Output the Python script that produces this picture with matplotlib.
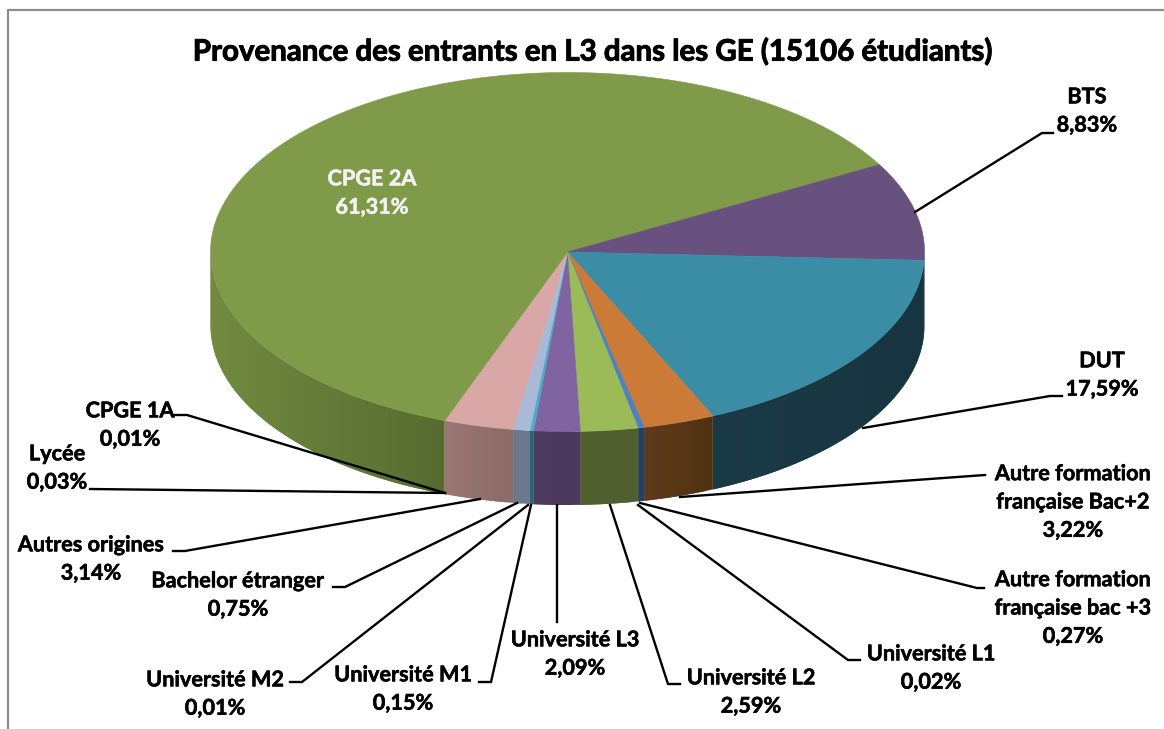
import numpy as np
import matplotlib
matplotlib.use("Agg")
import matplotlib.pyplot as plt
import matplotlib.patheffects as pe
from matplotlib.colors import to_rgb

TITLE = "Provenance des entrants en L3 dans les GE (15106 étudiants)"
categories = ["CPGE 2A", "BTS", "DUT", "Autre formation\nfrançaise Bac+2",
              "Autre formation\nfrançaise bac +3", "Université L1", "Université L2",
              "Université L3", "Université M1", "Université M2", "Bachelor étranger",
              "Autres origines", "Lycée", "CPGE 1A"]
values = [61.31, 8.83, 17.59, 3.22, 0.27, 0.02, 2.59, 2.09, 0.15, 0.01, 0.75, 3.14, 0.03, 0.01]
top_colors = ["#7F9A48", "#68507F", "#3B8DA5", "#CB7A37", "#4F81BD", "#4F81BD", "#9BBB59",
              "#8064A2", "#4BACC6", "#4BACC6", "#A9BAD8", "#D8A7A6", "#D8A7A6", "#7F9A48"]
wall_left = ["#728A40", "#3A2C48", "#1A3A46", "#5E3A1C", "#26405F", "#26405F", "#515F2E",
             "#4D3B60", "#246577", "#246577", "#6B788A", "#9A7674", "#9A7674", "#586C32"]
wall_right = ["#566B30", "#3A2C48", "#173540", "#50320F", "#26405F", "#26405F", "#515F2E",
              "#4A395C", "#246577", "#246577", "#6B788A", "#8B6B67", "#8B6B67", "#586C32"]

label_pos = {
    "CPGE 2A": (372, 193), "BTS": (1087, 111), "DUT": (1102, 375),
    "Autre formation\nfrançaise Bac+2": (1073, 502), "Autre formation\nfrançaise bac +3": (1073, 608),
    "Université L1": (931, 668), "Université L2": (751, 692), "Université L3": (575, 654),
    "Université M1": (403, 689), "Université M2": (215, 694), "Bachelor étranger": (238, 595),
    "Autres origines": (91, 559), "Lycée": (57, 468), "CPGE 1A": (130, 425),
}
leaders = [
    [(915, 212), (1042, 133), (1053, 133)],
    [(863, 428), (1050, 396), (1062, 396)],
    [(680, 497), (985, 475)],
    [(640, 503), (977, 588), (984, 588)],
    [(638, 505), (848, 660), (860, 660)],
    [(610, 505), (668, 684), (680, 684)],
    [(557, 505), (557, 622)],
    [(531, 505), (491, 682), (479, 682)],
    [(528, 505), (302, 682), (290, 682)],
    [(517, 503), (345, 587), (333, 587)],
    [(480, 499), (185, 551), (173, 551)],
    [(445, 493), (90, 489)],
    [(445, 493), (187, 415), (175, 415)],
]

CX, CY, RX, RY, DEPTH = 567.5, 252.0, 357.0, 179.5, 73.5
START = 29.1 + 360 * 0.6131

plt.rcParams['font.family'] = ['Lato', 'DejaVu Sans']
fig = plt.figure(figsize=(11.64, 7.29), dpi=100)
ax = fig.add_axes([0, 0, 1, 1])
ax.set_xlim(0, 1164); ax.set_ylim(729, 0); ax.axis("off")

ax.plot([8, 8, 1164], [729, 10, 10], color="#8C8C8C", lw=1.6, zorder=1, solid_capstyle="butt")

vals = np.array(values)
ang = START - np.concatenate([[0], np.cumsum(vals)]) * 360 / vals.sum()

def px(a):
    r = np.radians(a)
    return CX + RX * np.cos(r), CY - RY * np.sin(r)

for i in range(len(vals)):
    a0, a1 = ang[i], ang[i + 1]
    t = np.linspace(a0, a1, max(int(abs(a0 - a1)), 3))
    s = np.sin(np.radians(t))
    t = t[s <= 0.0]
    if len(t) >= 2:
        x, y = px(t)
        lo, hi = x.min(), x.max()
        c0, c1 = np.array(to_rgb(wall_left[i])), np.array(to_rgb(wall_right[i]))
        for k in range(len(t) - 1):
            f = 0 if hi == lo else ((x[k] + x[k + 1]) / 2 - lo) / (hi - lo)
            k2 = min(k + 2, len(t) - 1)
            xs = [x[k], x[k2], x[k2], x[k]]
            ys = [y[k], y[k2], y[k2] + DEPTH, y[k] + DEPTH]
            ax.fill(xs, ys, color=c0 + (c1 - c0) * f, lw=0, zorder=2)

for i in range(len(vals)):
    a0, a1 = ang[i], ang[i + 1]
    t = np.linspace(a0, a1, max(int(abs(a0 - a1) * 3), 3))
    x, y = px(t)
    ax.fill(np.r_[CX, x], np.r_[CY, y], color=top_colors[i], lw=0.4, zorder=3)

for pts in leaders:
    xs, ys = zip(*pts)
    ax.plot(xs, ys, color="black", lw=1.7, zorder=4, solid_joinstyle="miter")

ax.text(591, 52, TITLE, ha="center", va="center", fontsize=21.2, fontweight="bold", color="black", zorder=5,
        path_effects=[pe.withStroke(linewidth=0.7, foreground="black")])

for name, v in zip(categories, values):
    lx, ly = label_pos[name]
    txt = f"{name}\n{v:.2f}%".replace(".", ",")
    col = "#F2F2F2" if name == "CPGE 2A" else "black"
    ax.text(lx, ly, txt, ha="center", va="center", fontsize=15.6, fontweight="bold",
            color=col, linespacing=1.43, zorder=5,
            path_effects=[pe.withStroke(linewidth=0.4, foreground=col)])

fig.savefig("out.png", dpi=100, facecolor="white")
